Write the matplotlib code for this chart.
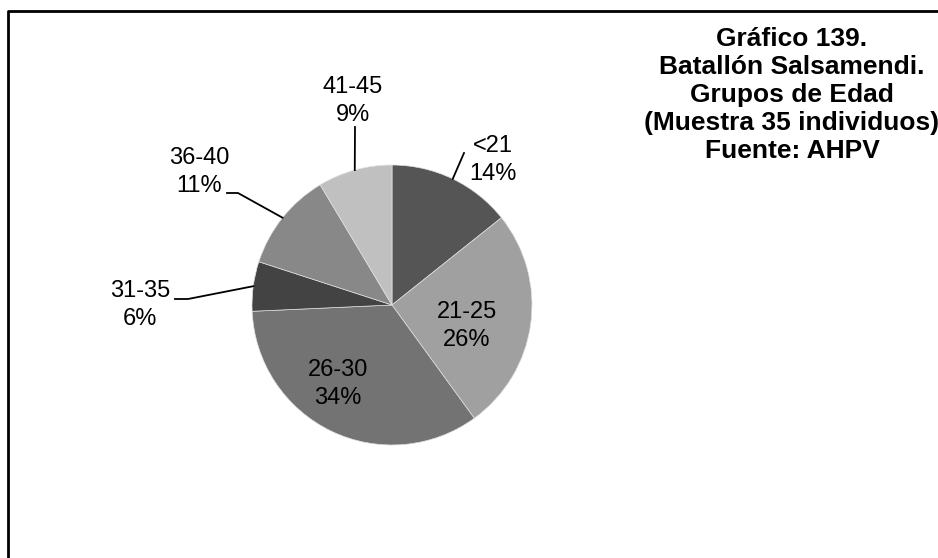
import matplotlib.pyplot as plt
import numpy as np

# data: 35 individuals by age group
groups = ['<21', '21-25', '26-30', '31-35', '36-40', '41-45']
counts = [5, 9, 12, 2, 4, 3]
colors = ['#555555', '#a0a0a0', '#737373', '#434343', '#888888', '#c0c0c0']
title_lines = ['Gráfico 139.', 'Batallón Salsamendi.', 'Grupos de Edad',
               '(Muestra 35 individuos)', 'Fuente: AHPV']

W, H = 938, 558
plt.rcParams['font.family'] = ['Liberation Sans', 'DejaVu Sans']

fig = plt.figure(figsize=(W / 100, H / 100), dpi=100)
ax = fig.add_axes([0, 0, 1, 1])

cx, cy, r = 392, 305, 140
# y axis inverted -> counterclock=True draws clockwise on screen; start at top
wedges, _ = ax.pie(counts, colors=colors, startangle=-90, counterclock=True,
                   center=(cx, cy), radius=r, frame=True,
                   wedgeprops=dict(edgecolor='#e0e0e0', linewidth=0.5))
ax.set_xlim(0, W)
ax.set_ylim(H, 0)
ax.axis('off')
ax.set_aspect('auto')

# frame (only left and top edges visible in the picture)
ax.plot([8, 8, W + 5], [H + 5, 11, 11], color='black', lw=2, solid_capstyle='butt')

total = sum(counts)
pcts = [f'{round(c / total * 100)}%' for c in counts]

# label positions (centre of two-line label) and leader line elbows
lab_pos = {
    '<21': (493, 160),
    '21-25': (467, 326),
    '26-30': (338, 384),
    '31-35': (140, 305),
    '36-40': (199, 172),
    '41-45': (353, 101),
}
leaders = {
    '<21': [(464, 153)],
    '31-35': [(175, 299), (188, 299)],
    '36-40': [(227, 193), (238, 193)],
    '41-45': [(355, 127)],
}

cum = np.cumsum([0] + counts)
for i, g in enumerate(groups):
    x, y = lab_pos[g]
    ax.text(x, y - 14, g, ha='center', va='center', fontsize=17)
    ax.text(x, y + 14, pcts[i], ha='center', va='center', fontsize=17)
    if g in leaders:
        mid = (cum[i] + cum[i + 1]) / 2 / total * 2 * np.pi
        ex = cx + r * np.sin(mid)
        ey = cy - r * np.cos(mid)
        pts = leaders[g] + [(ex, ey)]
        ax.plot([p[0] for p in pts], [p[1] for p in pts], color='black', lw=1.3)

for k, line in enumerate(title_lines):
    ax.text(792, 39 + 28 * k, line, ha='center', va='center',
            fontsize=19, fontweight='bold')

fig.savefig('out.png', dpi=100)
